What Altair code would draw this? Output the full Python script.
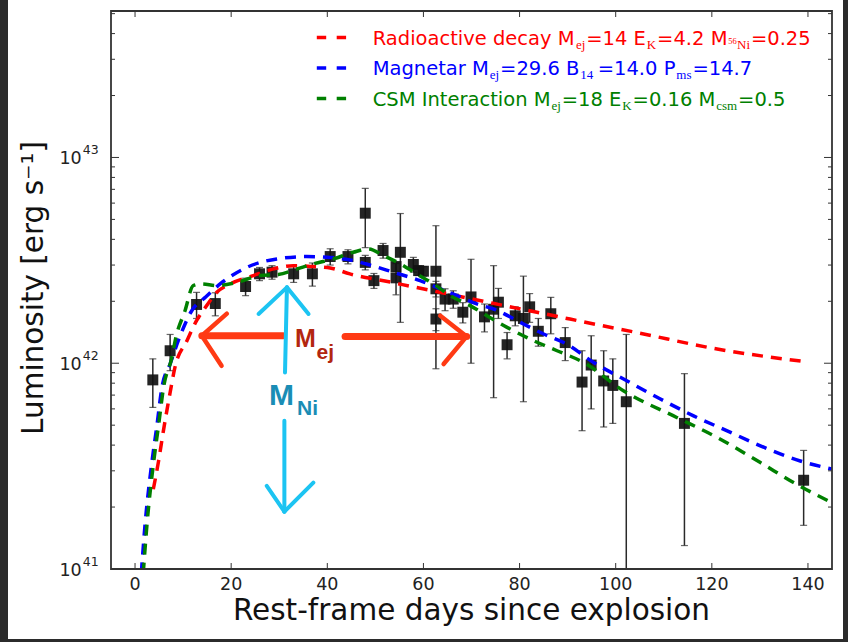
import altair as alt
import pandas as pd

# ---------------- data (luminosity in units of 1e42 erg/s) ----------------
obs_day = [3.7, 7.3, 12.8, 16.7, 23.0, 25.9, 28.5, 33.0, 36.9, 40.6, 44.3, 47.9, 47.9,
           49.7, 51.6, 54.3, 54.3, 55.2, 57.9, 59.0, 60.0, 62.6, 62.6, 62.6, 64.5, 66.2,
           68.2, 69.9, 72.7, 74.6, 75.6, 77.4, 79.1, 80.8, 82.1, 83.9, 86.5, 89.5, 93.0,
           94.9, 97.5, 99.4, 102.2, 114.3, 139.1]
obs_lum = [0.83, 1.15, 1.93, 1.95, 2.36, 2.72, 2.77, 2.72, 2.72, 3.30, 3.30, 5.36, 3.09,
           2.52, 3.53, 2.95, 2.60, 3.46, 3.02, 2.82, 2.80, 2.80, 2.30, 1.64, 2.05, 2.05,
           1.77, 2.10, 1.68, 1.83, 1.98, 1.23, 1.70, 1.65, 1.88, 1.43, 1.74, 1.26, 0.81,
           0.98, 0.82, 0.78, 0.65, 0.51, 0.27]
obs_err = [0.22, 0.23, 0.28, 0.25, 0.23, 0.20, 0.21, 0.25, 0.35, 0.30, 0.26, 1.71, 0.25,
           0.21, 0.29, 0.15, 0.45, 1.88, 0.25, 0.15, 0.15, 1.86, 0.20, 0.20, 0.25, 0.20,
           0.20, 1.10, 0.26, 1.15, 0.33, 0.18, 0.18, 1.00, 0.30, 0.22, 0.35, 0.23, 0.34,
           0.38, 0.33, 0.27, 0.73, 0.38, 0.107]

rad_day = [3.8, 4.9, 5.9, 7.3, 8.3, 10.8, 12.8, 14.9, 17.0, 19.8, 24.6, 28.8, 32.9, 37.1,
           40.6, 44.7, 51.7, 58.6, 64.1, 70.4, 76.6, 83.6, 90.5, 96.8, 104.4, 121.1, 139.1]
rad_lum = [0.244, 0.335, 0.469, 0.721, 0.954, 1.287, 1.610, 1.905, 2.211, 2.428, 2.666,
           2.873, 2.981, 2.949, 2.906, 2.717, 2.518, 2.333, 2.196, 2.046, 1.911, 1.769,
           1.639, 1.529, 1.410, 1.172, 1.020]

mag_day = [1.3, 2.1, 3.5, 4.5, 5.6, 7.3, 9.0, 11.8, 14.6, 17.7, 23.3, 29.5, 35.7, 39.9,
           45.4, 48.7, 53.8, 59.3, 62.8, 67.0, 71.1, 74.6, 80.8, 85.0, 89.8, 95.4, 102.3,
           109.3, 116.2, 123.2, 130.1, 138.4, 145.0]
mag_lum = [0.095, 0.166, 0.329, 0.487, 0.763, 0.991, 1.287, 1.800, 2.090, 2.428, 2.925,
           3.214, 3.298, 3.272, 3.154, 3.010, 2.766, 2.520, 2.338, 2.131, 1.941, 1.835,
           1.551, 1.387, 1.240, 1.009, 0.822, 0.670, 0.555, 0.469, 0.397, 0.335, 0.306]

csm_day = [1.7, 2.5, 3.9, 4.9, 6.0, 7.6, 8.5, 10.4, 12.1, 13.9, 17.0, 21.2, 26.0, 29.8,
           33.7, 37.1, 41.3, 45.4, 48.6, 51.7, 55.2, 58.6, 62.1, 65.6, 69.7, 73.2, 77.4,
           82.9, 87.8, 93.3, 101.6, 112.7, 121.1, 130.1, 137.0, 145.0]
csm_lum = [0.095, 0.166, 0.335, 0.500, 0.780, 1.050, 1.335, 1.800, 2.383, 2.428, 2.383,
           2.473, 2.666, 2.696, 2.873, 3.040, 3.214, 3.461, 3.595, 3.336, 3.040, 2.717,
           2.428, 2.131, 1.905, 1.703, 1.494, 1.287, 1.150, 1.009, 0.735, 0.545, 0.436,
           0.329, 0.263, 0.210]

x_ticks = [0, 20, 40, 60, 80, 100, 120, 140]
y_major = [1e41, 1e42, 1e43]
y_major_exp = ["41", "42", "43"]
y_minor = [2e41, 3e41, 4e41, 5e41, 6e41, 7e41, 8e41, 9e41,
           2e42, 3e42, 4e42, 5e42, 6e42, 7e42, 8e42, 9e42,
           2e43, 3e43, 4e43, 5e43]

# legend texts: (text, kind) with kind 0 = normal, 1 = subscript, 2 = tiny superscript
leg_rad = [("Radioactive decay M", 0), ("ej", 1), ("=14 E", 0), ("K", 1), ("=4.2 M", 0),
           ("56", 2), ("Ni", 1), ("=0.25", 0)]
leg_mag = [("Magnetar M", 0), ("ej", 1), ("=29.6 B", 0), ("14", 1), ("=14.0 P", 0),
           ("ms", 1), ("=14.7", 0)]
leg_csm = [("CSM Interaction M", 0), ("ej", 1), ("=18 E", 0), ("K", 1), ("=0.16 M", 0),
           ("csm", 1), ("=0.5", 0)]

# hand-drawn annotation strokes: (day0, L0, day1, L1) in 1e42 units
ej_shaft = [(13.9, 1.361, 30.8, 1.361), (43.7, 1.35, 69.0, 1.35)]
ej_heads = [(13.9, 1.361, 19.1, 1.741), (13.9, 1.361, 18.0, 0.972),
            (69.0, 1.35, 63.5, 1.703), (69.0, 1.35, 64.2, 0.991)]
ni_strokes = [(31.2, 0.902, 31.6, 2.338), (31.6, 2.338, 25.7, 1.735), (31.6, 2.338, 36.1, 1.735),
              (31.07, 0.525, 31.07, 0.190), (31.07, 0.190, 27.4, 0.2534), (31.07, 0.190, 37.1, 0.263)]

# ---------------- layout ----------------
W, H = 721, 558
OX, OY = 111, 11
SANS = "DejaVu Sans"
SERIF = "Liberation Serif"
ARIAL = "Liberation Sans"
RED, BLUE, GREEN = "#ff0000", "#0000ff", "#008000"

# advance widths (em) used to chain legend text pieces
SANS_W = {" ": .318, "=": .838, ".": .318, "B": .686, "C": .698, "E": .632, "I": .295,
          "M": .863, "P": .603, "R": .695, "S": .635, "a": .613, "c": .550, "d": .635,
          "e": .615, "g": .635, "i": .278, "n": .634, "o": .612, "r": .411, "t": .392,
          "v": .592, "y": .592}
SERIF_W = {"e": .444, "j": .278, "K": .722, "N": .722, "i": .278, "m": .778, "s": .389,
           "c": .444}


def text_w(s, table, size):
    return sum(table.get(ch, .636) for ch in s) * size


X = alt.Scale(domain=[-5, 145], nice=False, zero=False)
Y = alt.Scale(type="log", domain=[1e41, 5.15e43], nice=False)


def xe(f):
    return alt.X(f"{f}:Q", scale=X, axis=None)


def ye(f):
    return alt.Y(f"{f}:Q", scale=Y, axis=None)


one = pd.DataFrame({"k": [0]})


def txt(s, px, py, size, color, font=SANS, align="left", weight="normal", angle=0):
    mk = dict(text=s, align=align, baseline="alphabetic", fontSize=size, font=font,
              color=color, fontWeight=weight)
    if angle:
        mk["angle"] = angle
    return alt.Chart(one).mark_text(**mk).encode(x=alt.value(px - OX), y=alt.value(py - OY))


layers = []

# white page area (dark border of the screenshot stays outside)
layers.append(alt.Chart(one).mark_rect(color="white").encode(
    x=alt.value(8 - OX), x2=alt.value(843 - OX), y=alt.value(0 - OY), y2=alt.value(639 - OY)))

# observations
obs = pd.DataFrame({"day": obs_day, "lum": obs_lum, "err": obs_err})
obs["L"] = obs["lum"] * 1e42
obs["hi"] = (obs["lum"] + obs["err"]) * 1e42
obs["lo"] = (obs["lum"] - obs["err"]).clip(lower=0.001) * 1e42

layers.append(alt.Chart(obs).mark_rule(color="#2a2a2a", strokeWidth=1.5, clip=True).encode(
    x=xe("day"), y=ye("lo"), y2="hi"))
layers.append(alt.Chart(obs).mark_tick(orient="horizontal", size=7, thickness=1.2,
                                       color="#2a2a2a", clip=True).encode(x=xe("day"), y=ye("hi")))
layers.append(alt.Chart(obs[obs["lo"] > 1e41]).mark_tick(orient="horizontal", size=7, thickness=1.2,
                                                        color="#2a2a2a").encode(x=xe("day"), y=ye("lo")))
layers.append(alt.Chart(obs).mark_square(size=120, color="#111111", opacity=0.92).encode(
    x=xe("day"), y=ye("L")))

# models
for d, l, c in [(rad_day, rad_lum, RED), (mag_day, mag_lum, BLUE), (csm_day, csm_lum, GREEN)]:
    df = pd.DataFrame({"day": d, "L": [v * 1e42 for v in l]})
    layers.append(alt.Chart(df).mark_line(color=c, strokeWidth=3.5, strokeDash=[11, 8],
                                          interpolate="monotone", clip=True).encode(
        x=xe("day"), y=ye("L"), order="day:Q"))


# annotations
def strokes(segs, color, width):
    df = pd.DataFrame(segs, columns=["d0", "l0", "d1", "l1"])
    df["L0"] = df["l0"] * 1e42
    df["L1"] = df["l1"] * 1e42
    return alt.Chart(df).mark_rule(color=color, strokeWidth=width, strokeCap="round").encode(
        x=xe("d0"), x2="d1", y=ye("L0"), y2="L1")


layers.append(strokes(ej_shaft, "#ff3a14", 7))
layers.append(strokes(ej_heads, "#ff3a14", 4.5))
layers.append(strokes(ni_strokes, "#1cc4f2", 4))
layers.append(txt("M", 295, 347, 25, "#b3260f", font=ARIAL, weight="bold"))
layers.append(txt("ej", 316.5, 359, 21, "#b3260f", font=ARIAL, weight="bold"))
layers.append(txt("M", 269, 405, 30, "#1a8db5", font=ARIAL, weight="bold"))
layers.append(txt("Ni", 297, 415, 21, "#1a8db5", font=ARIAL, weight="bold"))

# legend
for yy, c in [(37.5, RED), (68, BLUE), (98.5, GREEN)]:
    layers.append(alt.Chart(one).mark_rule(color=c, strokeWidth=3.5, strokeDash=[9.4, 10.5]).encode(
        x=alt.value(316.8 - OX), x2=alt.value(346.1 - OX), y=alt.value(yy - OY)))

MAIN, SUB, TINY, GAP = 19.5, 13, 8.5, 0.9
for base, c, segs in [(44.5, RED, leg_rad), (75, BLUE, leg_mag), (105.5, GREEN, leg_csm)]:
    px = 372.7
    for s, kind in segs:
        if kind == 0:
            layers.append(txt(s, px, base, MAIN, c))
            px += text_w(s, SANS_W, MAIN) + GAP
        elif kind == 1:
            layers.append(txt(s, px, base + 4, SUB, c, font=SERIF))
            px += text_w(s, SERIF_W, SUB) + GAP
        else:
            layers.append(txt(s, px, base - 1, TINY, c, font=SERIF))
            px += text_w(s, {}, TINY) * 0.8

# frame and inward ticks
xt = pd.DataFrame({"v": x_ticks, "lab": [str(v) for v in x_ticks]})
layers.append(alt.Chart(xt).mark_rule(color="#333", strokeWidth=1).encode(
    x=xe("v"), y=alt.value(H), y2=alt.value(H - 6)))
layers.append(alt.Chart(xt).mark_rule(color="#333", strokeWidth=1).encode(
    x=xe("v"), y=alt.value(0), y2=alt.value(6)))
ymaj = pd.DataFrame({"v": y_major, "e": y_major_exp})
ymin = pd.DataFrame({"v": y_minor})
for df, ln in [(ymaj, 8), (ymin, 4)]:
    layers.append(alt.Chart(df).mark_rule(color="#333", strokeWidth=1).encode(
        y=ye("v"), x=alt.value(0), x2=alt.value(ln)))
    layers.append(alt.Chart(df).mark_rule(color="#333", strokeWidth=1).encode(
        y=ye("v"), x=alt.value(W), x2=alt.value(W - ln)))
layers.append(alt.Chart(one).mark_rect(filled=False, stroke="#333", strokeWidth=1.8).encode(
    x=alt.value(0), x2=alt.value(W), y=alt.value(0), y2=alt.value(H)))

# tick labels
layers.append(alt.Chart(xt).mark_text(fontSize=17.5, font=SANS, color="#222", baseline="alphabetic",
                                      align="center").encode(x=xe("v"), y=alt.value(579), text="lab:N"))
layers.append(alt.Chart(ymaj).mark_text(text="10", fontSize=17.5, font=SANS, color="#222",
                                        baseline="alphabetic", align="right", dy=7).encode(
    y=ye("v"), x=alt.value(81.7 - OX)))
layers.append(alt.Chart(ymaj).mark_text(fontSize=12.5, font=SANS, color="#222",
                                        baseline="alphabetic", align="left", dy=-3).encode(
    y=ye("v"), x=alt.value(82.7 - OX), text="e:N"))

# axis titles
layers.append(txt("Rest-frame days since explosion", OX + W / 2, 620, 29.5, "#111", align="center"))
layers.append(txt("Luminosity [erg s\u207b\u00b9]", 43, 288, 29.5, "#111", align="center", angle=270))

chart = alt.layer(*layers).properties(
    width=W, height=H,
    autosize=alt.AutoSizeParams(type="none"),
    padding={"left": OX, "top": OY, "right": 848 - OX - W, "bottom": 642 - OY - H},
    background="#2b2b2b",
).configure_view(stroke="transparent")

chart.save("out.html", embed_options={"renderer": "svg", "actions": False})
